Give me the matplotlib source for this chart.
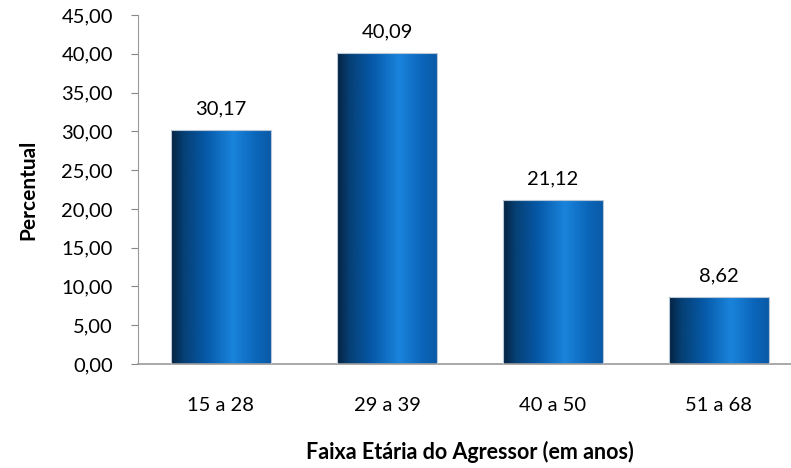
import matplotlib

matplotlib.use("Agg")

import matplotlib.pyplot as plt
import numpy as np
from matplotlib.colors import LinearSegmentedColormap

categories = ["15 a 28", "29 a 39", "40 a 50", "51 a 68"]
values = [30.17, 40.09, 21.12, 8.62]
value_labels = ["30,17", "40,09", "21,12", "8,62"]
y_ticks = [0, 5, 10, 15, 20, 25, 30, 35, 40, 45]

plt.rcParams["font.family"] = ["Lato", "DejaVu Sans"]

# dark left edge -> bright highlight -> mid blue on the right
bar_cmap = LinearSegmentedColormap.from_list(
    "bar",
    [
        (0.0, "#05223f"),
        (0.12, "#063f73"),
        (0.35, "#0659a8"),
        (0.62, "#1a84dc"),
        (0.85, "#0b66ba"),
        (1.0, "#0a5aa6"),
    ],
)
gradient = np.linspace(0, 1, 256).reshape(1, -1)

fig = plt.figure(figsize=(7.91, 4.68), dpi=100)
ax = fig.add_axes([138 / 791, 104 / 468, 653 / 791, 349 / 468])

width = 0.6
x = np.arange(len(categories))
for xi, v, lab in zip(x, values, value_labels):
    left = xi - width / 2
    ax.imshow(
        gradient,
        cmap=bar_cmap,
        aspect="auto",
        extent=(left, left + width, 0, v),
        zorder=2,
        interpolation="bicubic",
    )
    ax.add_patch(
        plt.Rectangle((left, 0), width, v, fill=False, edgecolor="#b8c8d8",
                      linewidth=0.8, zorder=3)
    )
    ax.annotate(lab, xy=(xi, v), xytext=(0, 9), textcoords="offset points",
                ha="center", va="bottom", fontsize=14.5, color="black")

ax.set_xlim(-0.5, 3.434)
ax.set_ylim(0, 45)
ax.set_yticks(y_ticks)
ax.set_yticklabels([f"{t:.2f}".replace(".", ",") for t in y_ticks], fontsize=14.5)
ax.set_xticks(x)
ax.set_xticklabels(categories, fontsize=14.5)
ax.tick_params(axis="x", length=0, pad=24)
ax.tick_params(axis="y", length=5, color="#888888", direction="out", pad=13)

for side in ["top", "right"]:
    ax.spines[side].set_visible(False)
ax.spines["left"].set_color("#999999")
ax.spines["bottom"].set_color("#999999")
ax.spines["bottom"].set_linewidth(1.2)

ax.set_ylabel("Percentual", fontsize=15, fontweight="bold", labelpad=17)
fig.text(470 / 791, 1 - 452 / 468, "Faixa Etária do Agressor (em anos)",
         ha="center", va="center", fontsize=15.5, fontweight="bold")

fig.savefig("out.png", dpi=100)
